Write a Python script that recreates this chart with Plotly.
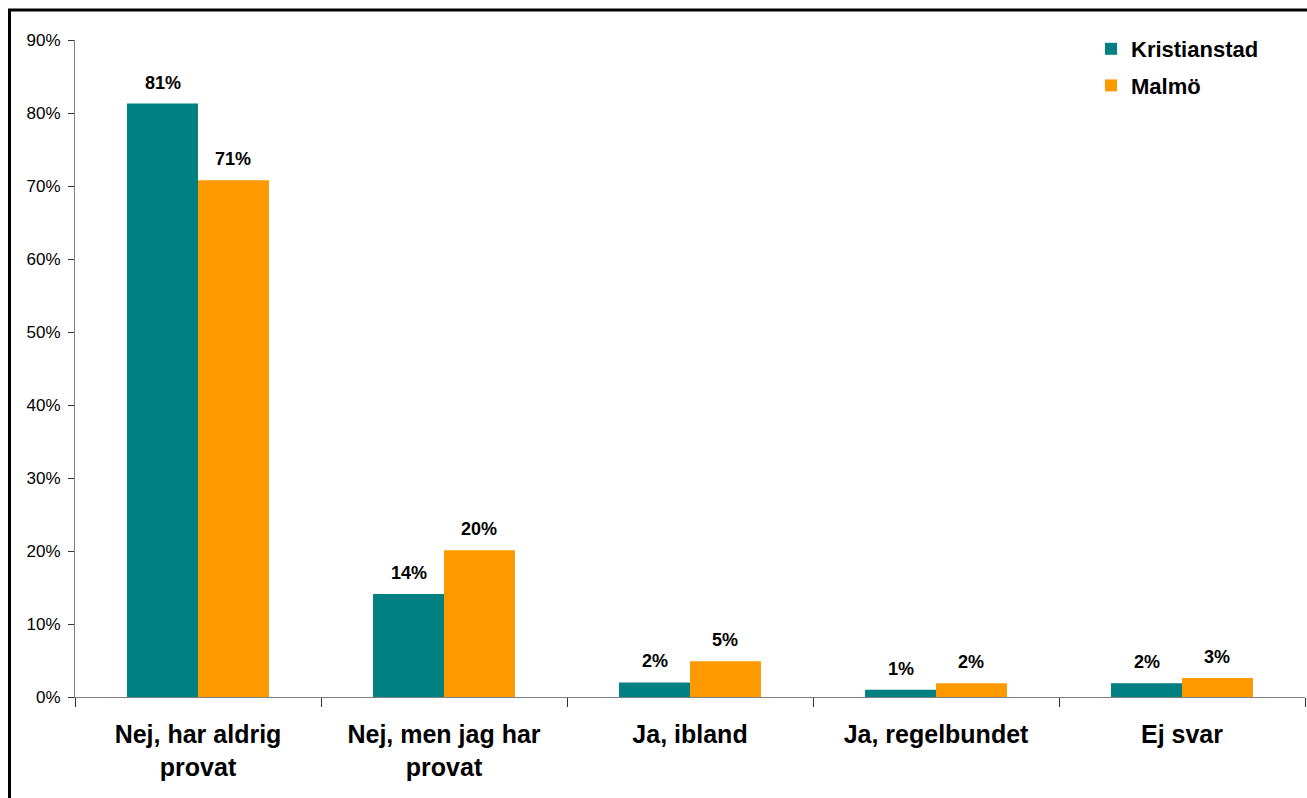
import plotly.graph_objects as go

categories = ["Nej, har aldrig<br>provat", "Nej, men jag har<br>provat", "Ja, ibland", "Ja, regelbundet", "Ej svar"]
kristianstad = [81.3, 14.1, 2.0, 1.0, 1.9]
malmo = [70.8, 20.1, 4.9, 1.9, 2.6]
kristianstad_labels = ["81%", "14%", "2%", "1%", "2%"]
malmo_labels = ["71%", "20%", "5%", "2%", "3%"]
y_ticks = [0, 10, 20, 30, 40, 50, 60, 70, 80, 90]
y_tick_labels = [f"{v}%" for v in y_ticks]

W, H = 1307, 798
L, R, T, B = 75, 2, 40, 101
pw, ph = W - L - R, H - T - B
BARGAP = 0.423

font_family = "Liberation Sans, Arial, sans-serif"
label_font = dict(family=font_family, size=18, color="black", weight="bold")

fig = go.Figure()
fig.add_trace(go.Bar(
    x=categories, y=kristianstad, name="Kristianstad",
    marker=dict(color="#008080", line=dict(width=0)),
    legendgroup="a", hoverinfo="x+y",
))
fig.add_trace(go.Bar(
    x=categories, y=malmo, name="Malmö",
    marker=dict(color="#FF9900", line=dict(width=0)),
    legendgroup="b", hoverinfo="x+y",
))

# value labels above each bar, placed on the data axes
cat_w = pw / len(categories)
bar_w = cat_w * (1 - BARGAP) / 2
annotations = []
for vals, labels, sign in ((kristianstad, kristianstad_labels, -1), (malmo, malmo_labels, 1)):
    for c, v, t in zip(categories, vals, labels):
        annotations.append(dict(
            x=c, y=v, xref="x", yref="y", text=t, showarrow=False,
            xanchor="center", yanchor="bottom", xshift=sign * bar_w / 2, yshift=9,
            font=label_font,
        ))

def px_x(p):
    return (p - L) / pw

def px_y(p):
    return 1 - (p - T) / ph

fig.update_layout(
    width=W, height=H,
    margin=dict(l=L, r=R, t=T, b=B, pad=0),
    paper_bgcolor="white", plot_bgcolor="white",
    barmode="group", bargap=BARGAP, bargroupgap=0,
    font=dict(family=font_family, color="black"),
    showlegend=True,
    legend=dict(
        x=px_x(1091), y=px_y(28), xanchor="left", yanchor="top",
        font=dict(family=font_family, size=22, color="black", weight="bold"),
        bgcolor="rgba(0,0,0,0)", tracegroupgap=5,
    ),
    xaxis=dict(
        showline=True, linecolor="#808080", linewidth=1,
        ticks="outside", tickson="boundaries", ticklen=9, tickcolor="#333333",
        tickfont=dict(family=font_family, size=25, color="black", weight="bold"),
        ticklabelstandoff=15,
        showgrid=False, zeroline=False, fixedrange=True,
    ),
    yaxis=dict(
        range=[0, 90], tickvals=y_ticks, ticktext=y_tick_labels,
        showline=True, linecolor="#808080", linewidth=1,
        ticks="outside", ticklen=6, tickcolor="#333333",
        tickfont=dict(family=font_family, size=17, color="black"),
        ticklabelstandoff=4,
        showgrid=False, zeroline=False, fixedrange=True,
    ),
    annotations=annotations,
    shapes=[dict(
        type="rect", xref="paper", yref="paper",
        x0=px_x(9.5), x1=px_x(W + 20), y0=px_y(H + 20), y1=px_y(10),
        line=dict(color="black", width=3), fillcolor="rgba(0,0,0,0)", layer="above",
    )],
)

fig.write_html(
    "out.html",
    config={"displayModeBar": False},
    post_script="document.body.style.margin='0';document.body.style.overflow='hidden';",
)
